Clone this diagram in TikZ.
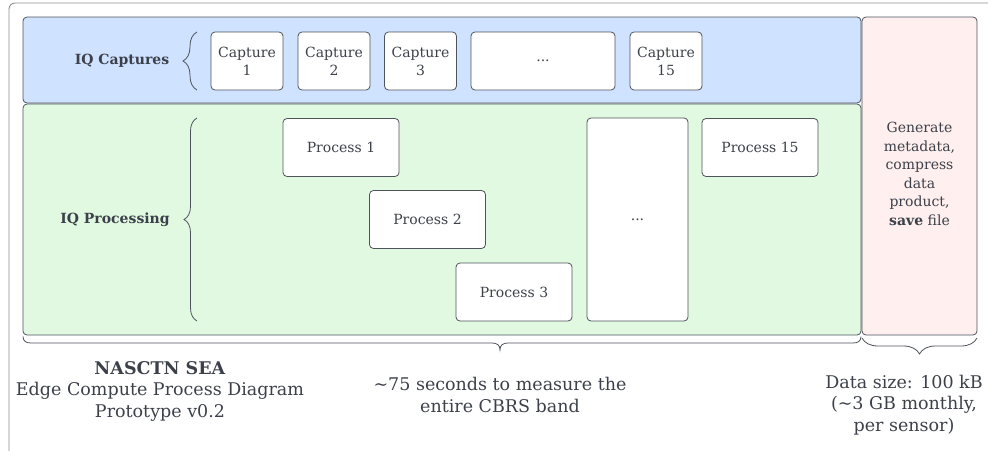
\documentclass[tikz,border=0pt]{standalone}
\usepackage{fontspec}
\setmainfont{DejaVu Serif}
\usetikzlibrary{decorations.pathreplacing}
\definecolor{strk}{HTML}{4E535C}
\definecolor{txt}{HTML}{3B404A}
\definecolor{frame}{HTML}{8A8D92}
\definecolor{bluef}{HTML}{CFE2FF}
\definecolor{greenf}{HTML}{E2F9E1}
\definecolor{pinkf}{HTML}{FFEFEE}
\tikzset{
  panel/.style={draw=strk, line width=0.8pt, rounded corners=4pt, inner sep=0pt},
  wbox/.style={draw=strk, fill=white, line width=0.8pt, rounded corners=4pt, inner sep=0pt,
    text=txt, font=\fontsize{14}{18}\selectfont, align=center},
  lbl/.style={text=txt, font=\fontsize{14}{18}\selectfont\bfseries, inner sep=0pt},
  btext/.style={text=txt, font=\fontsize{17.5}{21.5}\selectfont, align=center, inner sep=0pt},
  brc/.style={draw=strk, line width=0.8pt, decorate},
  brcline/.style={draw=strk, line width=0.8pt},
}
\begin{document}
\begin{tikzpicture}[x=1pt,y=-1pt]
\useasboundingbox (0,0) rectangle (988,450);
\clip (0,0) rectangle (988,450);
% outer frame
\draw[frame, line width=0.9pt, rounded corners=6pt] (9,3) rectangle (1000,470);
% panels
\node[panel, fill=bluef, minimum width=838pt, minimum height=86pt] (blue) at (442,60) {};
\node[panel, fill=greenf, minimum width=838pt, minimum height=231pt] (green) at (442,219.5) {};
\node[panel, fill=pinkf, minimum width=115pt, minimum height=318pt] (pink) at (919.5,176) {};
% captures
\node[wbox, minimum width=72pt, minimum height=58pt] (c1) at (247,61) {Capture\\1};
\node[wbox, minimum width=72pt, minimum height=58pt] (c2) at (334,61) {Capture\\2};
\node[wbox, minimum width=72pt, minimum height=58pt] (c3) at (420.5,61) {Capture\\3};
\node[wbox, minimum width=144pt, minimum height=58pt] (cdots) at (543,61) {...};
\node[wbox, minimum width=72pt, minimum height=58pt] (c15) at (666,61) {Capture\\15};
% processes
\node[wbox, minimum width=116pt, minimum height=58pt] (p1) at (341,147.5) {Process 1};
\node[wbox, minimum width=116pt, minimum height=58pt] (p2) at (427.5,219.5) {Process 2};
\node[wbox, minimum width=116pt, minimum height=58pt] (p3) at (514,292) {Process 3};
\node[wbox, minimum width=101pt, minimum height=203pt] (pdots) at (637.5,219.5) {...};
\node[wbox, minimum width=116pt, minimum height=58pt] (p15) at (760,147.5) {Process 15};
% labels
\node[lbl] (lcap) at (122,61) {IQ Captures};
\node[lbl] (lproc) at (115,220) {IQ Processing};
% left braces
\coordinate (bc1) at (197,90);
\coordinate (bc2) at (197,32);
\draw[brc, decoration={brace, amplitude=14pt}] (bc1) -- (bc2);
\coordinate (bp1) at (197,321);
\coordinate (bp2) at (197,118);
\draw[brc, decoration={brace, amplitude=13pt}] (bp1) -- (bp2);
% bottom brace under the green panel (tip off-centre)
\coordinate (bgL) at (23,336.5);
\coordinate (bgT) at (500,350);
\coordinate (bgR) at (861,336.5);
\draw[brcline] (bgL) .. controls (23,341) and (26,343) .. (31,343) -- (492,343)
  .. controls (497,343) and (500,345) .. (bgT)
  .. controls (500,345) and (503,343) .. (508,343) -- (853,343)
  .. controls (858,343) and (861,341) .. (bgR);
% bottom brace under the pink panel
\coordinate (bk1) at (977,338);
\coordinate (bk2) at (862,338);
\draw[brc, decoration={brace, amplitude=16pt}] (bk1) -- (bk2);
% pink text
\node[text=txt, font=\fontsize{14}{18.5}\selectfont, align=center, inner sep=0pt, anchor=north] (ptext) at (919.5,122)
  {Generate\\metadata,\\compress\\data\\product,\\\textbf{save} file};
% bottom texts
\node[btext] (title) at (160,391) {\textbf{NASCTN SEA}\\Edge Compute Process Diagram\\Prototype v0.2};
\node[btext] (time) at (500,395) {\textasciitilde75 seconds to measure the\\entire CBRS band};
\node[btext] (size) at (904,405) {Data size: 100 kB\\(\textasciitilde3 GB monthly,\\per sensor)};
\end{tikzpicture}
\end{document}
